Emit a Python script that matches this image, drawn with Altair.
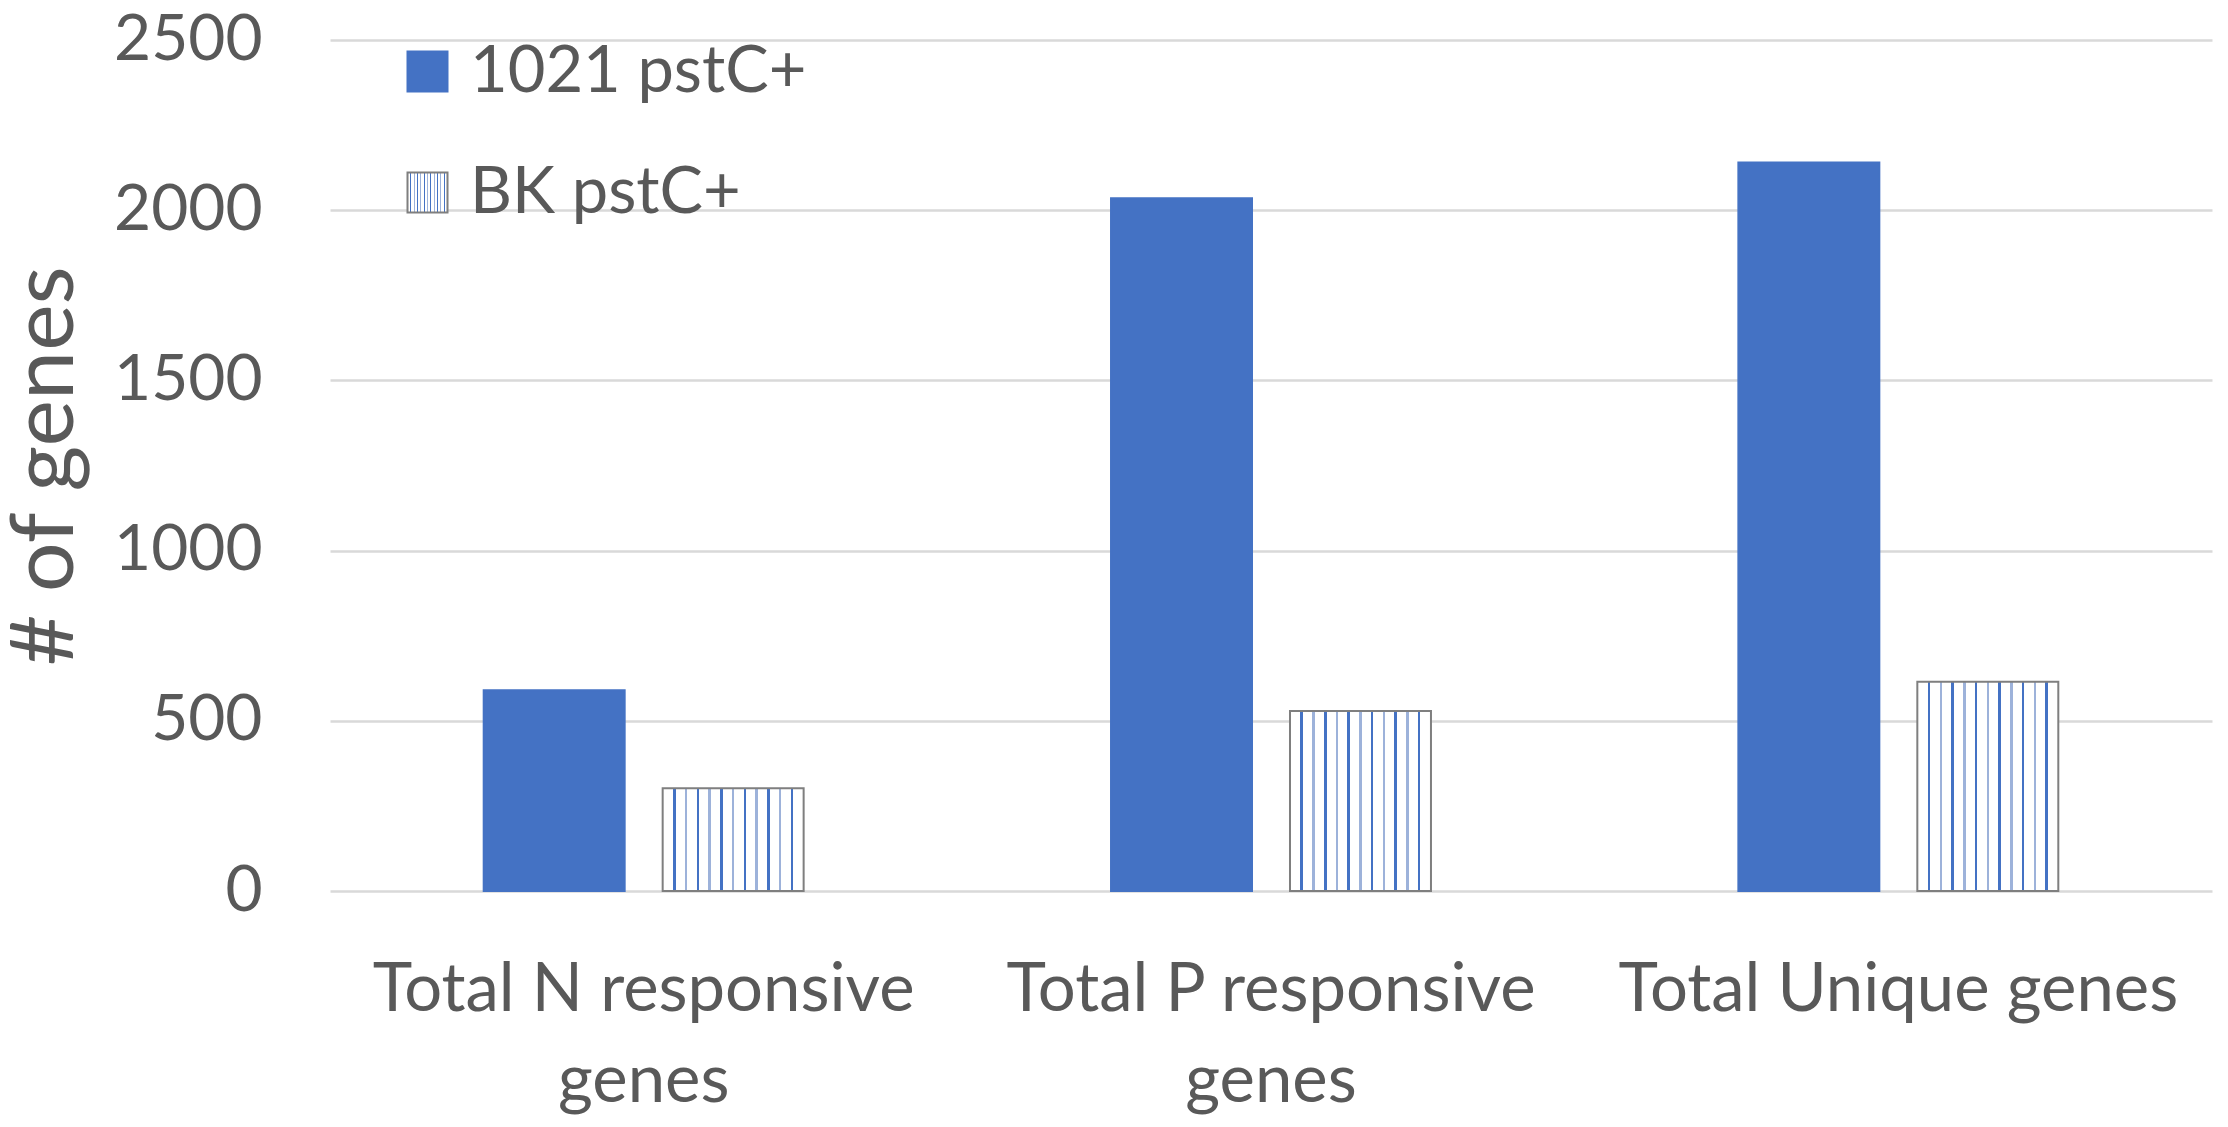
import altair as alt
import pandas as pd

categories = ["Total N responsive genes", "Total P responsive genes", "Total Unique genes"]
series = ["1021 pstC+", "BK pstC+"]
vals_1021 = [590, 2035, 2140]
vals_bk = [302, 529, 615]

rows = []
for c, v in zip(categories, vals_1021):
    rows.append({"category": c, "series": series[0], "genes": v})
for c, v in zip(categories, vals_bk):
    rows.append({"category": c, "series": series[1], "genes": v})
df = pd.DataFrame(rows)

BLUE = "#4472C4"
TEXT = "#595959"
FONT = "Lato"

# vertical stripe pattern as a hard-stop linear gradient
stops = ["{offset: 0, color: 'white'}"]
n_lines = 11
w = 0.009
for k in range(1, n_lines + 1):
    c = k / (n_lines + 1)
    col = "#4472C4" if k % 2 else "#9DB2DA"
    stops += [
        f"{{offset: {c - w:.4f}, color: 'white'}}",
        f"{{offset: {c - w:.4f}, color: '{col}'}}",
        f"{{offset: {c + w:.4f}, color: '{col}'}}",
        f"{{offset: {c + w:.4f}, color: 'white'}}",
    ]
stops.append("{offset: 1, color: 'white'}")
grad_expr = "{gradient: 'linear', x1: 0, y1: 0, x2: 1, y2: 0, stops: [" + ", ".join(stops) + "]}"

legend = alt.Legend(
    orient="none", legendX=65, legendY=-1, title=None,
    symbolType="square", symbolSize=1600, symbolStrokeWidth=2,
    labelFontSize=65, labelFont=FONT, labelColor=TEXT, labelLimit=1000,
    rowPadding=55, labelOffset=10, padding=0,
)

chart = alt.Chart(df).mark_bar(strokeWidth=2).encode(
    x=alt.X("category:N", sort=categories, title=None,
            scale=alt.Scale(paddingInner=0.49, paddingOuter=0.245),
            axis=alt.Axis(labelAngle=0, labelFontSize=67, labelFont=FONT, labelColor=TEXT,
                          labelLineHeight=91, labelPadding=66, labelBaseline="top",
                          ticks=False, domain=False, labelLimit=1000,
                          labelExpr="indexof(datum.label, 'responsive') >= 0 ? split(replace(datum.label, 'responsive ', 'responsive|'), '|') : datum.label")),
    xOffset=alt.XOffset("series:N", sort=series, scale=alt.Scale(paddingInner=0.2123)),
    y=alt.Y("genes:Q", title="# of genes",
            scale=alt.Scale(domain=[0, 2500]),
            axis=alt.Axis(values=[0, 500, 1000, 1500, 2000, 2500], format="d",
                          ticks=False, domain=False,
                          labelFontSize=64, labelFont=FONT, labelColor=TEXT, labelPadding=68,
                          gridColor="#d9d9d9", gridWidth=2.5,
                          titleFontSize=88, titleFont=FONT, titleColor=TEXT, titleFontWeight="normal",
                          titleAngle=270, titleBaseline="alphabetic", titleX=-258, titleY=425.5)),
    fill=alt.Fill("series:N", sort=series,
                  scale=alt.Scale(domain=series, range=[BLUE, alt.ExprRef(grad_expr)]),
                  legend=legend),
    stroke=alt.Stroke("series:N", sort=series,
                      scale=alt.Scale(domain=series, range=[BLUE, "#7f7f7f"]),
                      legend=legend),
).properties(
    width=1882, height=851,
    autosize=alt.AutoSizeParams(type="none"),
    padding={"left": 322, "top": 32, "right": 8, "bottom": 230},
).configure_view(stroke=None)

chart.save("out.html", embed_options={"renderer": "svg", "actions": False})
